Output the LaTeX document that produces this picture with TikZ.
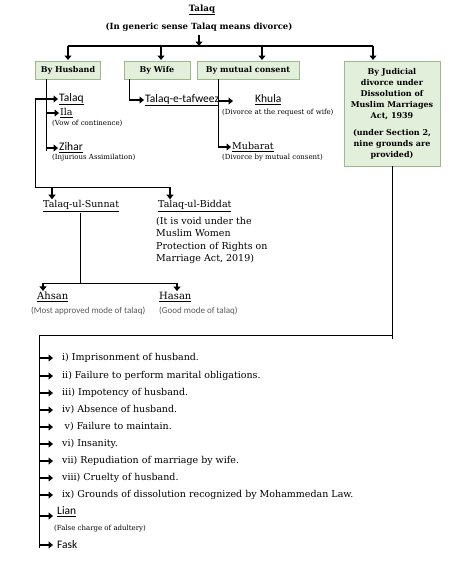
\documentclass[tikz,border=0pt]{standalone}
\usepackage{fontspec}
\setmainfont{DejaVu Serif}
\newfontfamily\calib{Carlito}
\usetikzlibrary{arrows.meta}
\definecolor{boxfill}{HTML}{E2EFDA}
\definecolor{boxline}{HTML}{9CB88C}
\definecolor{notegray}{HTML}{5A5A5A}
\newcommand{\fsz}[1]{\fontsize{#1}{#1}\selectfont}

\begin{document}
\begin{tikzpicture}[x=1pt,y=-1pt,
  box/.style={draw=boxline,fill=boxfill,line width=.8pt,minimum height=18pt,inner sep=2pt,font=\bfseries\fsz{8}},
  lbl/.style={anchor=west,inner sep=1pt},
  ser/.style={lbl,font=\fsz{9.5}},
  cal/.style={lbl,font=\calib\fsz{11.5}},
  tnote/.style={lbl,font=\fsz{7}},
  gnote/.style={lbl,font=\calib\fsz{9},text=notegray},
  trunk/.style={line width=.9pt},
  stub/.style={line width=2.2pt,-{Triangle[length=4.5pt,width=7pt]}}]
\useasboundingbox (0,0) rectangle (454,570);
% heading and the four kinds
\node[font=\bfseries\fsz{8.7}] (title) at (202,10) {\underline{Talaq}};
\node[font=\bfseries\fsz{8.5}] (sub) at (199,27) {(In generic sense Talaq means divorce)};
\node[box,minimum width=65pt] (husband) at (68,70) {By Husband};
\node[box,minimum width=66pt] (wife) at (157,70) {By Wife};
\node[box,minimum width=102pt] (mutual) at (248,70) {By mutual consent};
\node[box,minimum width=96pt,minimum height=105pt,align=center,font=\bfseries\fontsize{8}{11}\selectfont]
  (judicial) at (392,113.5) {By Judicial\\divorce under\\Dissolution of\\Muslim Marriages\\Act, 1939\\[6pt]
  (under Section 2,\\nine grounds are\\provided)};
\coordinate (barL) at (68,46);
\coordinate (barR) at (373,46);
\draw[stub] (sub.south) -- (sub.south |- barL);
\draw[line width=1.2pt] (barL) -- (barR);
\foreach \x/\n in {68/husband,161/wife,262/mutual,373/judicial}
  \draw[stub] (\x,46) -- (\x,60);
% by husband
\node[cal] (talaqB) at (58,99) {\underline{Talaq}};
\node[ser] (ila) at (59,113) {\underline{Ila}};
\node[tnote] (vow) at (51,123) {(Vow of continence)};
\node[cal] (zihar) at (58,148) {\underline{Zihar}};
\node[tnote] (injur) at (51,158) {(Injurious Assimilation)};
\coordinate (hx) at (46,0);
\coordinate (ox) at (35,0);
\draw[trunk] (husband.south -| hx) -- ([yshift=-3pt]zihar.west -| hx);
\draw[stub] (ila.west -| hx) -- (ila.west);
\draw[stub] (zihar.west -| hx) -- (zihar.west);
\draw[stub] (talaqB.west -| ox) -- (talaqB.west);
% by wife and mutual consent
\node[cal] (tafweez) at (144,100) {\underline{Talaq-e-tafweez}};
\node[cal] (khula) at (254,100) {\underline{Khula}};
\node[tnote] (khnote) at (221,113) {(Divorce at the request of wife)};
\node[ser] (mubarat) at (231,147) {\underline{Mubarat}};
\node[tnote] (mbnote) at (221,158) {(Divorce by mutual consent)};
\coordinate (wx) at (129,0);
\coordinate (mx) at (218,0);
\coordinate (khtip) at (233,101);
\draw[trunk] (wife.south -| wx) -- (tafweez.west -| wx);
\draw[stub] (tafweez.west -| wx) -- (tafweez.west);
\draw[trunk] (mutual.south -| mx) -- (mubarat.west -| mx);
\draw[stub] (khtip -| mx) -- (khtip);
\draw[stub] (mubarat.west -| mx) -- (mubarat.west);
% sunnat and biddat
\node[ser] (sunnat) at (42,206) {\underline{Talaq-ul-Sunnat}};
\node[ser] (biddat) at (157,206) {\underline{Talaq-ul-Biddat}};
\node[lbl,anchor=north west,align=left,font=\fontsize{9.5}{12.5}\selectfont] (bdnote) at (155,216)
  {(It is void under the\\Muslim Women\\Protection of Rights on\\Marriage Act, 2019)};
\coordinate (su) at (52,187);
\coordinate (bi) at (170,187);
\draw[trunk] (talaqB.west -| ox) -- (ox |- su) -- (bi);
\draw[stub] (su) -- (su |- sunnat.north);
\draw[stub] (bi) -- (bi |- biddat.north);
% ahsan and hasan
\node[ser,font=\fsz{10}] (ahsan) at (36,297) {\underline{Ahsan}};
\node[gnote] (ahnote) at (30,311) {(Most approved mode of talaq)};
\node[ser,font=\fsz{10}] (hasan) at (158,297) {\underline{Hasan}};
\node[gnote] (hsnote) at (158,311) {(Good mode of talaq)};
\coordinate (sx) at (80,283);
\coordinate (ahx) at (43,283);
\coordinate (hsx) at (177,283);
\draw[trunk] (sunnat.south -| sx) -- (sx);
\draw[trunk] (ahx) -- (hsx);
\draw[stub] (ahx) -- (ahx |- ahsan.north);
\draw[stub] (hsx) -- (hsx |- hasan.north);
% nine grounds
\foreach \n/\y/\t in {1/358/{i) Imprisonment of husband.},
  2/376/{ii) Failure to perform marital obligations.},
  3/393/{iii) Impotency of husband.},
  4/410/{iv) Absence of husband.},
  5/427/{\hspace{2.5pt}v) Failure to maintain.},
  6/444/{vi) Insanity.},
  7/461/{vii) Repudiation of marriage by wife.},
  8/478/{viii) Cruelty of husband.},
  9/495/{ix) Grounds of dissolution recognized by Mohammedan Law.}}
  \node[ser] (g\n) at (61,\y) {\t};
\node[cal] (lian) at (56,512) {\underline{Lian}};
\node[tnote] (lnote) at (53,529) {(False charge of adultery)};
\node[cal] (fask) at (56,545) {Fask};
\coordinate (jx) at (392,335);
\coordinate (lx) at (39,335);
\draw[trunk] (judicial.south -| jx) -- ([yshift=-4pt]jx);
\draw[trunk] (jx) -- (lx) -- ([yshift=-3pt]fask.west -| lx);
\foreach \n in {1,...,9}
  \draw[stub] (g\n.west -| lx) -- ([xshift=-8pt]g\n.west);
\coordinate (lianpt) at ([yshift=-4pt]lian.west);
\draw[stub] (lianpt -| lx) -- ([xshift=-3pt]lianpt);
\draw[stub] (fask.west -| lx) -- ([xshift=-3pt]fask.west);
\end{tikzpicture}
\end{document}
